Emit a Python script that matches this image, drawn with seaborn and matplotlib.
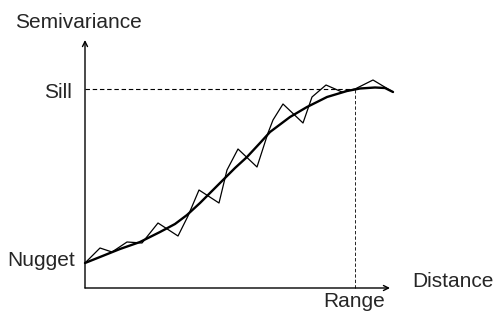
import matplotlib
matplotlib.use("Agg")
import matplotlib.pyplot as plt
import seaborn as sns
import pandas as pd

# Data (distance, semivariance)
jag_dist = [0, 1.5, 2.7, 4.2, 5.7, 7.3, 9.3, 10.3, 11.4, 13.4, 14.2, 15.3, 17.2,
            18.3, 18.8, 19.8, 21.8, 22.7, 24.1, 25.7, 27.0, 28.8, 30.8]
jag_semi = [2.5, 4.0, 3.6, 4.6, 4.5, 6.5, 5.2, 7.2, 9.8, 8.5, 11.8, 13.9, 12.1,
            15.5, 16.8, 18.4, 16.5, 19.1, 20.3, 19.6, 19.9, 20.8, 19.6]
fit_dist = [0, 1.5, 3.5, 5.5, 7.5, 9.0, 10.2, 11.5, 13.5, 15.0, 16.2, 17.5, 18.5,
            20.5, 22.2, 24.2, 26.2, 27.5, 29.0, 30.0, 30.8]
fit_semi = [2.5, 3.1, 3.9, 4.6, 5.6, 6.4, 7.3, 8.5, 10.5, 12.0, 13.1, 14.5, 15.6,
            17.1, 18.1, 19.1, 19.7, 19.95, 20.05, 20.0, 19.6]
nugget = 2.5
sill = 19.9
range_d = 27.0
labels = {"y": "Semivariance", "x": "Distance", "sill": "Sill",
          "nugget": "Nugget", "range": "Range"}

sns.set_style("white")
plt.rcParams["font.family"] = ["Liberation Sans", "DejaVu Sans"]

fig = plt.figure(figsize=(4.97, 3.23), dpi=100)
ax = fig.add_axes([0, 0, 1, 1])
ax.set_xlim(-8.5, 41.2)
ax.set_ylim(-3.5, 28.8)
ax.axis("off")

jag = pd.DataFrame({"d": jag_dist, "s": jag_semi})
fit = pd.DataFrame({"d": fit_dist, "s": fit_semi})
sns.lineplot(data=jag, x="d", y="s", ax=ax, color="black", lw=0.9,
             sort=False, estimator=None)
sns.lineplot(data=fit, x="d", y="s", ax=ax, color="black", lw=1.7,
             sort=False, estimator=None)

# axes arrows
ax.annotate("", xy=(0, 24.8), xytext=(0, 0),
            arrowprops=dict(arrowstyle="->", lw=1.0, color="black",
                            mutation_scale=9, shrinkA=0, shrinkB=0))
ax.annotate("", xy=(30.5, 0), xytext=(0, 0),
            arrowprops=dict(arrowstyle="->", lw=1.0, color="black",
                            mutation_scale=9, shrinkA=0, shrinkB=0))

# dashed guides
ax.plot([0, range_d], [sill, sill], color="black", lw=0.8, ls=(0, (4, 2.5)))
ax.plot([range_d, range_d], [0, sill], color="black", lw=0.6, ls=(0, (4, 2.5)))

fs = 15
ax.text(-7.0, 26.0, labels["y"], fontsize=fs, ha="left", va="baseline")
ax.text(-1.3, sill - 0.9, labels["sill"], fontsize=fs, ha="right", va="baseline")
ax.text(-1.0, nugget - 0.3, labels["nugget"], fontsize=fs, ha="right", va="baseline")
ax.text(32.7, 0.1, labels["x"], fontsize=fs, ha="left", va="baseline")
ax.text(23.8, -1.9, labels["range"], fontsize=fs, ha="left", va="baseline")

fig.savefig("out.png", dpi=100)
